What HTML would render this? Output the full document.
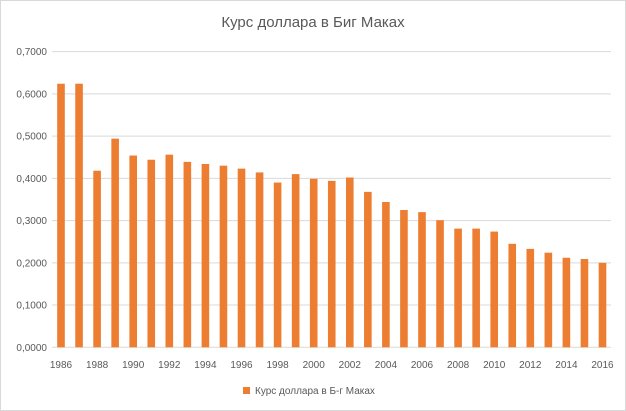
<!DOCTYPE html>
<html><head><meta charset="utf-8"><style>
body{margin:0;background:#fff}
svg{display:block;font-family:"Liberation Sans","DejaVu Sans",sans-serif}
</style></head><body>
<svg width="626" height="411" viewBox="0 0 626 411" xmlns="http://www.w3.org/2000/svg">
<rect x="0.5" y="0.5" width="625" height="410" fill="#fff" stroke="#d9d9d9"/>
<text x="313" y="27" text-anchor="middle" font-size="15" fill="#595959">Курс доллара в Биг Маках</text>
<g stroke="#d9d9d9" stroke-width="1">
<line x1="52" x2="611" y1="347.3" y2="347.3"/>
<line x1="52" x2="611" y1="305.06" y2="305.06"/>
<line x1="52" x2="611" y1="262.82" y2="262.82"/>
<line x1="52" x2="611" y1="220.58" y2="220.58"/>
<line x1="52" x2="611" y1="178.34" y2="178.34"/>
<line x1="52" x2="611" y1="136.1" y2="136.1"/>
<line x1="52" x2="611" y1="93.86" y2="93.86"/>
<line x1="52" x2="611" y1="51.62" y2="51.62"/>
</g>
<g font-size="10" fill="#595959" text-anchor="end">
<text x="47" y="350.8">0,0000</text>
<text x="47" y="308.56">0,1000</text>
<text x="47" y="266.32">0,2000</text>
<text x="47" y="224.08">0,3000</text>
<text x="47" y="181.84">0,4000</text>
<text x="47" y="139.6">0,5000</text>
<text x="47" y="97.36">0,6000</text>
<text x="47" y="55.12">0,7000</text>
</g>
<g fill="#ED7D31">
<rect x="57.2" y="83.72" width="7.6" height="263.58"/>
<rect x="75.25" y="83.72" width="7.6" height="263.58"/>
<rect x="93.3" y="170.74" width="7.6" height="176.56"/>
<rect x="111.35" y="138.63" width="7.6" height="208.67"/>
<rect x="129.4" y="155.53" width="7.6" height="191.77"/>
<rect x="147.45" y="159.75" width="7.6" height="187.55"/>
<rect x="165.5" y="154.69" width="7.6" height="192.61"/>
<rect x="183.55" y="161.87" width="7.6" height="185.43"/>
<rect x="201.6" y="163.98" width="7.6" height="183.32"/>
<rect x="219.65" y="165.67" width="7.6" height="181.63"/>
<rect x="237.7" y="168.62" width="7.6" height="178.68"/>
<rect x="255.75" y="172.43" width="7.6" height="174.87"/>
<rect x="273.8" y="182.56" width="7.6" height="164.74"/>
<rect x="291.85" y="174.12" width="7.6" height="173.18"/>
<rect x="309.9" y="178.76" width="7.6" height="168.54"/>
<rect x="327.95" y="180.87" width="7.6" height="166.43"/>
<rect x="346" y="177.5" width="7.6" height="169.8"/>
<rect x="364.05" y="191.86" width="7.6" height="155.44"/>
<rect x="382.1" y="201.99" width="7.6" height="145.31"/>
<rect x="400.15" y="210.02" width="7.6" height="137.28"/>
<rect x="418.2" y="212.13" width="7.6" height="135.17"/>
<rect x="436.25" y="220.16" width="7.6" height="127.14"/>
<rect x="454.3" y="228.61" width="7.6" height="118.69"/>
<rect x="472.35" y="228.61" width="7.6" height="118.69"/>
<rect x="490.4" y="231.56" width="7.6" height="115.74"/>
<rect x="508.45" y="243.81" width="7.6" height="103.49"/>
<rect x="526.5" y="248.88" width="7.6" height="98.42"/>
<rect x="544.55" y="252.68" width="7.6" height="94.62"/>
<rect x="562.6" y="257.75" width="7.6" height="89.55"/>
<rect x="580.65" y="259.02" width="7.6" height="88.28"/>
<rect x="598.7" y="262.82" width="7.6" height="84.48"/>
</g>
<g font-size="10" fill="#595959" text-anchor="middle">
<text x="61" y="368">1986</text>
<text x="97.1" y="368">1988</text>
<text x="133.2" y="368">1990</text>
<text x="169.3" y="368">1992</text>
<text x="205.4" y="368">1994</text>
<text x="241.5" y="368">1996</text>
<text x="277.6" y="368">1998</text>
<text x="313.7" y="368">2000</text>
<text x="349.8" y="368">2002</text>
<text x="385.9" y="368">2004</text>
<text x="422" y="368">2006</text>
<text x="458.1" y="368">2008</text>
<text x="494.2" y="368">2010</text>
<text x="530.3" y="368">2012</text>
<text x="566.4" y="368">2014</text>
<text x="602.5" y="368">2016</text>
</g>
<rect x="243" y="387" width="7" height="7" fill="#ED7D31"/>
<text x="255" y="394" font-size="10" fill="#595959">Курс доллара в Б-г Маках</text>
</svg>
</body></html>
